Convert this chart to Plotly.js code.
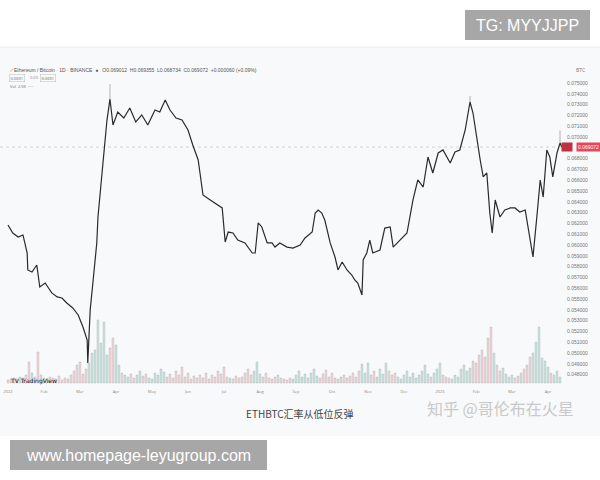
<!DOCTYPE html>
<html><head><meta charset="utf-8">
<script src="https://cdn.plot.ly/plotly-3.0.1.min.js"></script>
<style>html,body{margin:0;padding:0;background:#fff}#c{width:600px;height:480px}</style>
</head><body><div id="c"></div>
<script>
// ---- data ----
const priceDay = [0,0.8,1.7,2.5,3.2,3.3,4,4.8,5.3,6.2,7.3,8.2,9,9.8,10.8,11.7,12.5,13.2,13.3,13.7,14.2,14.8,15,15.3,15.8,16.5,17,17.5,18.3,19.3,20.3,21.3,22.3,23.3,24.5,25.3,26.2,27,28,29,30,30.8,31.7,32,32.5,33.7,34.5,35,35.7,36.2,36.7,37.5,38.3,39.5,40.7,41.2,41.7,42.3,43.2,44,44.5,45.3,46.5,47.5,48.7,49.5,50.7,51.2,51.7,52.3,52.8,53.7,54.5,55,55.7,56.5,57.3,57.8,58.3,59,59.2,59.8,60.3,60.8,62,62.8,63.7,64.2,65,65.3,66.5,67.5,68.3,69.2,70,70.8,71.7,72.5,73.7,74.5,75.3,76.2,77,77.5,78.2,78.7,79.2,79.8,80.3,80.7,81.2,82,82.8,83.7,84.5,85.3,86.2,87,87.5,88.2,88.7,89.2,89.8,90.3,90.8,91.5,92,92.3];
const price = [0.06185,0.06111,0.06074,0.06093,0.05926,0.05769,0.0575,0.05815,0.05611,0.05648,0.05556,0.05519,0.05509,0.05463,0.05417,0.05352,0.05241,0.0512,0.04907,0.05398,0.05676,0.06019,0.06259,0.06417,0.06741,0.07157,0.0735,0.07111,0.07231,0.07176,0.07269,0.07139,0.07204,0.07111,0.0725,0.07231,0.07343,0.0725,0.07176,0.07157,0.07065,0.06926,0.06787,0.06667,0.06463,0.06417,0.06389,0.0637,0.06343,0.06028,0.0612,0.06111,0.06046,0.06019,0.05926,0.05926,0.06204,0.06167,0.06019,0.06019,0.05981,0.06019,0.05981,0.05972,0.06,0.06065,0.0612,0.06296,0.06324,0.06296,0.06231,0.06019,0.05889,0.05769,0.05843,0.05769,0.05722,0.05676,0.05648,0.05537,0.05861,0.05926,0.06046,0.05926,0.05954,0.06157,0.06167,0.05981,0.06028,0.06046,0.06111,0.06417,0.06602,0.06537,0.06815,0.06667,0.06852,0.0688,0.06759,0.06861,0.0688,0.07065,0.07324,0.07222,0.06944,0.06787,0.0663,0.06667,0.06296,0.06111,0.06417,0.06259,0.06324,0.06343,0.06343,0.06306,0.06324,0.06046,0.05889,0.06296,0.06602,0.06444,0.0688,0.06815,0.0663,0.06852,0.06944,0.06907];
const wickDay = [17, 77, 92];
const wickHigh = [0.0749, 0.0738, 0.0706];
// volume, one bar per half day
const volume = [
 30,40,50,40,60,50,80,210,100,60,
 310,80,50,40,60,50,40,70,30,50,
 40,80,120,180,210,90,140,200,300,330,
 630,400,610,280,350,450,380,180,100,80,
 60,90,50,80,120,70,90,50,40,100,
 80,140,110,60,90,50,120,80,160,60,
 100,40,70,50,80,50,100,40,80,60,
 120,90,160,60,50,40,70,50,60,100,
 140,80,120,210,90,60,100,50,40,60,
 80,50,40,30,50,40,80,120,60,90,
 50,100,140,70,50,90,130,60,100,50,
 40,60,80,50,70,100,60,120,190,100,
 200,80,120,60,140,90,200,120,80,100,
 60,40,80,120,60,100,50,80,120,180,
 90,60,100,140,200,80,60,50,40,80,
 60,140,180,120,150,220,200,280,330,260,
 450,560,300,180,120,150,90,60,80,50,
 70,100,140,180,260,300,410,560,250,220,
 160,100,80,120,60];
const yTickVals = [0.048,0.049,0.050,0.051,0.052,0.053,0.054,0.055,0.056,0.057,0.058,0.059,0.060,0.061,0.062,0.063,0.064,0.065,0.066,0.067,0.068,0.069,0.070,0.071,0.072,0.073,0.074,0.075];
const xTickVals = [0,6,12,18,24,30,36,42,48,54,60,66,72,78,84,90];
const xTickText = ['2022','Feb','Mar','Apr','May','Jun','Jul','Aug','Sep','Oct','Nov','Dec','2023','Feb','Mar','Apr'];
const lastPriceText = '0.069072';

// ---- derived ----
const volDays = volume.map((_, i) => i/2);
function priceAt(d){
  for (let k=1;k<priceDay.length;k++){
    if (priceDay[k] >= d){
      const t = (d-priceDay[k-1])/((priceDay[k]-priceDay[k-1])||1);
      return price[k-1] + t*(price[k]-price[k-1]);
    }
  }
  return price[price.length-1];
}
const volColors = volDays.map(d => priceAt(d+0.5) >= priceAt(d-0.5) ? 'rgba(110,200,180,0.35)' : 'rgba(240,140,150,0.3)');
const lastPrice = price[price.length-1];
const shownTicks = yTickVals.filter(v => Math.abs(v-lastPrice) > 0.0004);

const wx = [], wy = [];
wickDay.forEach((d,i)=>{ wx.push(d,d,null); wy.push(priceAt(d), wickHigh[i], null); });

const traces = [
  {type:'bar', x:volDays, y:volume, yaxis:'y2', marker:{color:volColors, line:{color:'rgba(150,150,150,0.6)', width:0.5}}, width:0.3, hoverinfo:'skip'},
  {type:'scatter', mode:'lines', x:wx, y:wy, line:{color:'#a0a0a0', width:0.8}, hoverinfo:'skip'},
  {type:'scatter', mode:'lines', x:priceDay, y:price, line:{color:'#2a2a2a', width:1.2}, hoverinfo:'skip'}
];

const H = 480;
const py = p => 1 - p/H;
const ann = (x, y, text, opts={}) => Object.assign({xref:'paper', yref:'paper', x:x/600, y:py(y), text, showarrow:false, xanchor:'left', yanchor:'middle', font:{family:'Liberation Sans, Arial', size:5, color:'#666'}}, opts);

const layout = {
  width:600, height:480, margin:{l:0,r:0,t:0,b:0},
  paper_bgcolor:'#ffffff', plot_bgcolor:'rgba(0,0,0,0)',
  showlegend:false,
  xaxis:{domain:[0,566/600], range:[-1.33,93], showgrid:false, zeroline:false, showline:false,
         tickvals:xTickVals, ticktext:xTickText, ticks:'', tickfont:{size:4, color:'#888'}, anchor:'y'},
  yaxis:{domain:[py(388), py(60)], range:[0.046759, 0.07713], side:'right', showgrid:false, zeroline:false, showline:false,
         tickvals:shownTicks, ticktext:shownTicks.map(v=>v.toFixed(6)), tickfont:{size:5, color:'#777', family:'Liberation Sans, Arial'}, ticks:'', anchor:'x'},
  yaxis2:{domain:[py(388), py(60)], range:[-50,3230], overlaying:'y', visible:false, anchor:'x'},
  shapes:[
    {type:'rect', xref:'paper', yref:'paper', x0:0, x1:1, y0:py(436), y1:py(47), fillcolor:'#f8f9fa', line:{width:0}, layer:'below'},
    {type:'line', xref:'paper', yref:'paper', x0:0, x1:1, y0:py(47), y1:py(47), line:{color:'#eceeef', width:1}, layer:'below'},
    {type:'line', xref:'x', yref:'y', x0:-1.33, x1:92.6, y0:lastPrice, y1:lastPrice, line:{color:'#c8c8c8', width:0.8, dash:'dot'}, layer:'below'},
    {type:'rect', xref:'paper', yref:'paper', x0:465/600, x1:590/600, y0:py(40), y1:py(10), fillcolor:'#a7a7a7', line:{width:0}},
    {type:'rect', xref:'paper', yref:'paper', x0:10/600, x1:267/600, y0:py(470), y1:py(440), fillcolor:'#a7a7a7', line:{width:0}}
  ],
  annotations:[
    ann(527, 25, 'TG: MYYJJPP', {xanchor:'center', font:{family:'Liberation Sans, Arial', size:16, color:'#ffffff'}}),
    ann(138, 455, 'www.homepage-leyugroup.com', {xanchor:'center', font:{family:'Liberation Sans, Arial', size:16, color:'#ffffff'}}),
    ann(300, 413, 'ETHBTC汇率从低位反弹', {xanchor:'center', font:{family:'Noto Sans CJK SC', size:10, color:'#444'}}),
    ann(500, 408, '知乎 @哥伦布在火星', {xanchor:'center', font:{family:'Noto Sans CJK SC', size:16, color:'#c9c9c9'}}),
    ann(8, 70, '⟋Ethereum / Bitcoin · 1D · BINANCE  ●   O0.069012  H0.069355  L0.068734  C0.069072  +0.000060 (+0.09%)', {font:{family:'Liberation Sans, Arial', size:5, color:'#555'}}),
    ann(9, 78, '0.0691', {bordercolor:'#bbb', borderwidth:0.5, borderpad:1, font:{size:4, color:'#666'}}),
    ann(28, 78, '0.00', {font:{size:4, color:'#888'}}),
    ann(40, 78, '0.0691', {bordercolor:'#bbb', borderwidth:0.5, borderpad:1, font:{size:4, color:'#666'}}),
    ann(8, 86, 'Vol  2.5K  ·····', {font:{size:4, color:'#666'}}),
    ann(580, 70, 'BTC', {xanchor:'center', font:{size:5, color:'#777'}}),
    ann(8, 381, 'TV TradingView', {font:{family:'DejaVu Sans', size:6, color:'#222'}}),
    {xref:'paper', yref:'y', x:561/600, y:lastPrice, text:'      ', showarrow:false, xanchor:'left', yanchor:'middle', bgcolor:'#c0303f', font:{size:5}},
    {xref:'paper', yref:'y', x:576/600, y:lastPrice, text:lastPriceText, showarrow:false, xanchor:'left', yanchor:'middle', bgcolor:'#e8475a', borderpad:1, font:{size:5, color:'#fff', family:'Liberation Sans, Arial'}}
  ]
};
Plotly.newPlot('c', traces, layout, {staticPlot:true, displayModeBar:false});
</script></body></html>
